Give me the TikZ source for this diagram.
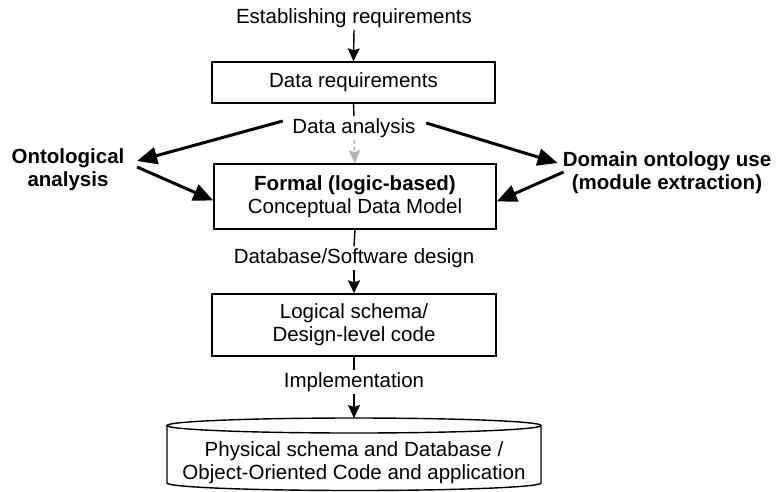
\documentclass[tikz,border=0pt]{standalone}
\usepackage{fontspec}
\setmainfont{Liberation Sans}
\usetikzlibrary{arrows.meta,calc}
\begin{document}
\begin{tikzpicture}[x=1pt,y=-1pt,
  font=\fontsize{20.5}{23}\selectfont,
  box/.style={draw, line width=1.4pt, inner sep=0pt, align=center},
  lbl/.style={inner sep=2pt, align=center},
  conn/.style={line width=1.4pt},
  arr/.style={line width=1.4pt, -{Stealth[length=13pt,width=12pt,inset=2pt]}},
  big/.style={line width=3pt, -{Triangle[length=20pt,width=17pt]}},
  gry/.style={line width=1.4pt, color=black!30, dash pattern=on 4pt off 3pt, -{Stealth[length=13pt,width=11pt,inset=2pt,sep=0pt]}}]
\useasboundingbox (0,0) rectangle (778,491);

\node[lbl] (est) at (354,18) {Establishing requirements};
\node[box, minimum width=283pt, minimum height=41pt] (dr) at (353.5,82.5) {Data requirements};
\node[lbl] (da) at (354,128) {Data analysis};
\node[box, minimum width=282pt, minimum height=65pt] (fm) at (355,196.5) {\textbf{Formal (logic-based)}\\Conceptual Data Model};
\node[lbl] (ont) at (68,170) {\textbf{Ontological}\\\textbf{analysis}};
\node[lbl] (dom) at (667,173) {\textbf{Domain ontology use}\\\textbf{(module extraction)}};
\node[lbl] (dsd) at (354,258) {Database/Software design};
\node[box, minimum width=284pt, minimum height=62pt] (ls) at (354,325) {Logical schema/\\Design-level code};
\node[lbl] (imp) at (354,382) {Implementation};
\node[lbl] (db) at (354,463) {Physical schema and Database /\\Object-Oriented Code and application};

% cylinder outline
\draw[line width=1.4pt] (167,425.5) -- (167,483) arc[start angle=180, end angle=360, x radius=187pt, y radius=7.5pt] -- (541,425.5);
\draw[line width=1.4pt] (354,425.5) ellipse[x radius=187pt, y radius=7.5pt];
\coordinate (dbtop) at (354,418);

% vertical flow
\draw[arr] (est.south) -- (dr.north);
\draw[conn] (dr.south) -- (da.north);
\draw[gry] (da.south) -- (fm.north);
\draw[conn] (fm.south) -- (dsd.north);
\draw[arr] (dsd.south) -- (ls.north);
\draw[conn] (ls.south) -- (imp.north);
\draw[arr] (imp.south) -- (dbtop);

% bold arrows
\draw[big] ([shift={(-7.5,-7)}]da.west) -- ([shift={(10.5,-9)}]ont.east);
\draw[big] ([shift={(10.5,-3)}]ont.east) -- ([shift={(0,4)}]fm.west);
\draw[big] ([shift={(8.5,-5)}]da.east) -- ([shift={(-3,-10)}]dom.west);
\draw[big] ([shift={(3,-1)}]dom.west) -- ([shift={(0,5)}]fm.east);
\end{tikzpicture}
\end{document}
